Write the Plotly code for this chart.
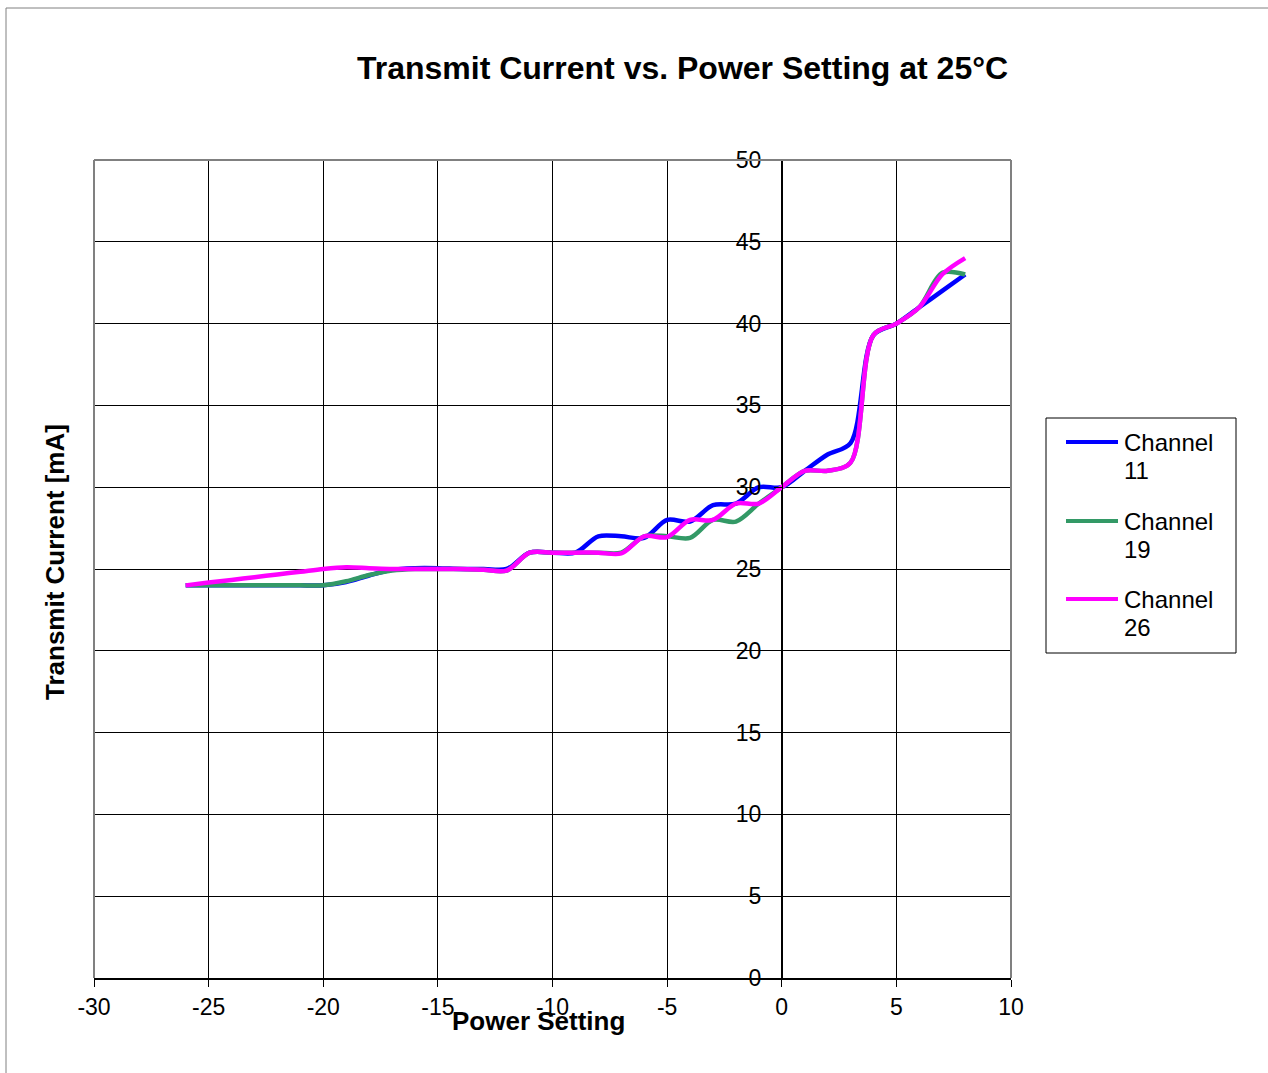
import plotly.graph_objects as go

# ---------------- data ----------------
power_setting = list(range(-26, 9))  # -26 ... 8

channel_11 = [24, 24, 24, 24, 24, 24, 24, 24.2, 24.6, 24.95, 25.05, 25.05, 25, 25, 25,
              26, 26, 26, 27, 27, 26.9, 28, 27.9, 28.9, 29, 30, 30,
              31, 32, 32.7, 39.3, 40, 41, 42, 43]
channel_19 = [24, 24, 24, 24, 24, 24, 24, 24.25, 24.63, 24.9, 25, 25, 25, 24.95, 24.9,
              26, 26, 26, 26, 26, 27, 27, 26.9, 28, 27.9, 29, 30,
              31, 31, 31.5, 39.3, 40, 41, 43.1, 43]
channel_26 = [24, 24.17, 24.33, 24.5, 24.67, 24.83, 25, 25.1, 25.05, 25, 25, 25, 25, 24.95, 24.9,
              26, 26, 26, 26, 25.95, 27, 26.95, 28, 28, 29, 29, 30,
              31, 31, 31.5, 39.3, 40, 41, 43, 44]

series_names = ["Channel 11", "Channel 19", "Channel 26"]
series_values = [channel_11, channel_19, channel_26]
series_colors = ["#0000FF", "#339966", "#FF00FF"]

x_ticks = [-30, -25, -20, -15, -10, -5, 0, 5, 10]
y_ticks = [0, 5, 10, 15, 20, 25, 30, 35, 40, 45, 50]

title_text = "Transmit Current vs. Power Setting at 25°C"
x_title = "Power Setting"
y_title = "Transmit Current [mA]"

# ---------------- figure ----------------
W, H = 1268, 1073
L, R, T, B = 94, 257, 160, 95
PW, PH = W - L - R, H - T - B
FONT = "Liberation Sans, Arial, sans-serif"


def px(xp):
    return (xp - L) / PW


def py(yp):
    return (H - B - yp) / PH


fig = go.Figure()
for name, vals, col in zip(series_names, series_values, series_colors):
    fig.add_trace(go.Scatter(
        x=power_setting, y=vals, name=name, mode="lines",
        line=dict(color=col, width=4.5, shape="spline", smoothing=0.9),
        showlegend=False,
    ))

fig.update_layout(
    width=W, height=H,
    margin=dict(l=L, r=R, t=T, b=B, pad=0),
    paper_bgcolor="white", plot_bgcolor="white",
    font=dict(family=FONT, color="black", size=23),
    title=dict(text="<b>" + title_text + "</b>", x=682.5 / W, xanchor="center",
               xref="container",
               y=1 - 68 / H, yanchor="middle", yref="container",
               font=dict(family=FONT, size=32, color="black")),
)

fig.update_xaxes(
    range=[-30, 10], tickmode="array", tickvals=x_ticks,
    ticktext=[str(v) for v in x_ticks],
    showgrid=True, gridcolor="black", gridwidth=1,
    showline=True, linecolor="black", linewidth=2,
    ticks="outside", ticklen=7, tickcolor="black", tickwidth=1,
    zeroline=False, tickfont=dict(size=23, family=FONT),
)
fig.update_yaxes(
    range=[0, 50], tickmode="array", tickvals=y_ticks,
    ticktext=[str(v) for v in y_ticks],
    anchor="free", position=px(782),
    showgrid=True, gridcolor="black", gridwidth=1,
    showline=True, linecolor="black", linewidth=1,
    ticks="outside", ticklen=8, tickcolor="black", tickwidth=1,
    ticklabelstandoff=8,
    zeroline=False, tickfont=dict(size=23, family=FONT),
)

shapes = []
# outer chart frame (cut at right/bottom like the reference)
shapes.append(dict(type="rect", xref="paper", yref="paper",
                   x0=px(6), x1=px(1290), y0=py(1090), y1=py(8),
                   line=dict(color="#808080", width=1), layer="below"))
# plot area border (gray) - top, right, left
for (x0, y0, x1, y1) in [(0, 1, 1, 1), (1, 0, 1, 1), (0, 0, 0, 1)]:
    shapes.append(dict(type="line", xref="paper", yref="paper",
                       x0=x0, x1=x1, y0=y0, y1=y1,
                       line=dict(color="#808080", width=2), layer="above"))
# legend box
shapes.append(dict(type="rect", xref="paper", yref="paper",
                   x0=px(1046), x1=px(1236), y0=py(653), y1=py(418),
                   line=dict(color="black", width=1), fillcolor="white", layer="above"))

annotations = []
legend_rows = [442, 521, 599]
for name, col, yr in zip(series_names, series_colors, legend_rows):
    shapes.append(dict(type="line", xref="paper", yref="paper",
                       x0=px(1066), x1=px(1118), y0=py(yr), y1=py(yr),
                       line=dict(color=col, width=4), layer="above"))
    word, num = name.split(" ")
    annotations.append(dict(text=word, xref="paper", yref="paper",
                            x=px(1122), y=py(yr), xanchor="left", yanchor="middle",
                            showarrow=False, font=dict(size=24, family=FONT)))
    annotations.append(dict(text=num, xref="paper", yref="paper",
                            x=px(1122), y=py(yr + 28), xanchor="left", yanchor="middle",
                            showarrow=False, font=dict(size=24, family=FONT)))

annotations.append(dict(text="<b>" + y_title + "</b>", xref="paper", yref="paper",
                        x=px(55), y=py(562), textangle=-90, xanchor="center",
                        yanchor="middle", showarrow=False,
                        font=dict(size=26, family=FONT)))
annotations.append(dict(text="<b>" + x_title + "</b>", xref="paper", yref="paper",
                        x=px(538), y=py(1021), xanchor="center", yanchor="middle",
                        showarrow=False, font=dict(size=26, family=FONT)))

fig.update_layout(shapes=shapes, annotations=annotations)

fig.write_html("out.html",
               config={"displayModeBar": False},
               post_script="document.body.style.margin='0';document.body.style.overflow='hidden';")
